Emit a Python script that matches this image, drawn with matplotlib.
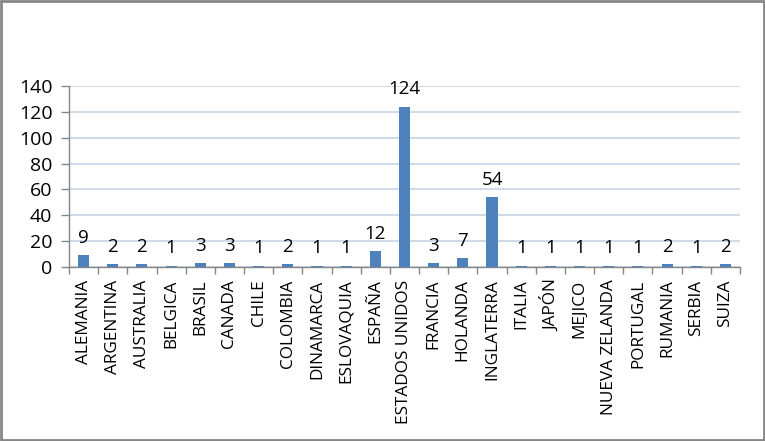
import matplotlib
matplotlib.use("Agg")
import matplotlib.pyplot as plt
from matplotlib.patches import Rectangle
import numpy as np

paises = ["ALEMANIA", "ARGENTINA", "AUSTRALIA", "BELGICA", "BRASIL", "CANADA",
          "CHILE", "COLOMBIA", "DINAMARCA", "ESLOVAQUIA", "ESPAÑA",
          "ESTADOS UNIDOS", "FRANCIA", "HOLANDA", "INGLATERRA", "ITALIA",
          "JAPÓN", "MEJICO", "NUEVA ZELANDA", "PORTUGAL", "RUMANIA", "SERBIA", "SUIZA"]
valores = [9, 2, 2, 1, 3, 3, 1, 2, 1, 1, 12, 124, 3, 7, 54, 1, 1, 1, 1, 1, 2, 1, 2]
yticks = [0, 20, 40, 60, 80, 100, 120, 140]

plt.rcParams['font.family'] = ['Open Sans', 'DejaVu Sans']

fig = plt.figure(figsize=(7.65, 4.41), dpi=100)
ax = fig.add_axes([69/765, 1 - 267/441, (740-69)/765, (267-86)/441])

n = len(paises)
x = np.arange(n)
ax.bar(x, valores, width=0.38, color='#4F81BD', zorder=3)
for xi, v in zip(x, valores):
    ax.annotate(str(v), (xi, v), xytext=(0, 6), textcoords='offset points',
                ha='center', va='bottom', fontsize=13.5, color='#000000')

ax.set_xlim(-0.5, n - 0.5)
ax.set_ylim(0, 140)
ax.set_yticks(yticks)
ax.set_yticklabels([str(t) for t in yticks], fontsize=14)
ax.yaxis.grid(True, color='#C6D4E4', linewidth=1.2, zorder=0)
ax.set_axisbelow(True)

ax.set_xticks(x)
ax.set_xticklabels(paises, rotation=90, fontsize=12.4)
ax.tick_params(axis='x', length=0, pad=9)
ax.set_xticks(np.arange(-0.5, n, 1), minor=True)
ax.tick_params(axis='x', which='minor', length=5, color='#868686', width=1)
ax.tick_params(axis='y', length=6, color='#868686', width=1, pad=6)

for s in ['top', 'right']:
    ax.spines[s].set_visible(False)
for s in ['left', 'bottom']:
    ax.spines[s].set_color('#868686')
    ax.spines[s].set_linewidth(1)

fig.patches.append(Rectangle((0.0015, 0.0025), 0.997, 0.995, transform=fig.transFigure,
                             fill=False, edgecolor='#868686', linewidth=2))

fig.savefig('out.png', dpi=100, facecolor='white')
